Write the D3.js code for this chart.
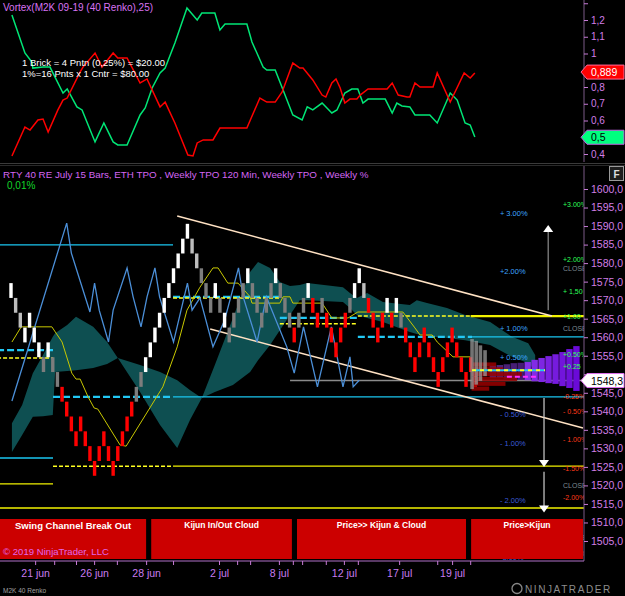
<!DOCTYPE html>
<html>
<head>
<meta charset="utf-8">
<script src="https://cdn.jsdelivr.net/npm/d3@7/dist/d3.min.js"></script>
<style>
  body { margin: 0; background: #000; }
  svg { display: block; }
  text { font-family: "Liberation Sans", Arial, sans-serif; }
</style>
</head>
<body>
<svg id="chart" width="625" height="596"></svg>
<script>
// renko bricks: low price of each 4-point brick, and its colour code
const brickLow = [
  1570.6, 1566.6, 1562.6, 1558.6, 1562.6, 1558.6, 1554.6, 1550.6, 1554.6, 1550.6,
  1546.6, 1542.6, 1538.6, 1534.6, 1530.6, 1534.6, 1530.6, 1526.6, 1522.6, 1526.6,
  1530.6, 1526.6, 1522.6, 1526.6, 1530.6, 1534.6, 1538.6, 1542.6, 1546.6, 1550.6,
  1554.6, 1558.6, 1562.6, 1566.6, 1570.6, 1574.6, 1578.6, 1582.6, 1586.6, 1582.6,
  1578.6, 1574.6, 1570.6, 1566.6, 1570.6, 1566.6, 1562.6, 1558.6, 1562.6, 1566.6,
  1570.6, 1574.6, 1570.6, 1566.6, 1562.6, 1566.6, 1570.6, 1574.6, 1570.6, 1566.6,
  1562.6, 1558.6, 1562.6, 1566.6, 1570.6, 1566.6, 1562.6, 1566.6, 1562.6, 1558.6,
  1554.6, 1558.6, 1562.6, 1566.6, 1570.6, 1574.6, 1570.6, 1566.6, 1562.6, 1558.6,
  1562.6, 1566.6, 1562.6, 1566.6, 1562.6, 1558.6, 1554.6, 1550.6, 1554.6, 1558.6,
  1554.6, 1550.6, 1546.6, 1550.6, 1554.6, 1558.6, 1554.6, 1550.6, 1546.6, 1550.6,
  1546.6
];
const brickKind = [
  "WLLWWWWGWGG", "RRRRRRRRRRRRRRRR", "GG", "WWWWWWWWWW", "LL", "GGG", "W", "G", "W", "GGGG", "W",
  "GGGGG", "W", "GGG", "R", "GG", "W", "RR", "G", "RRRRR", "G", "WW", "L", "RRRR", "W", "R", "W", "G",
  "RRRRRRRRRRRRRRRR"
].join("");

const vortexPlus = [
  [0.2, 1.23], [3.0, 1.003], [4.5, 0.949], [4.7, 0.913], [6.9, 0.919], [8.4, 0.919], [11.2, 0.764],
  [12.1, 0.788], [14.2, 0.681], [15.3, 0.663], [18.1, 0.472], [20.0, 0.585], [22.0, 0.472],
  [23.0, 0.454], [25.0, 0.454], [27.8, 0.633], [28.9, 0.675], [30.4, 0.794], [32.1, 0.884],
  [33.2, 0.913], [35.3, 1.063], [37.9, 1.272], [40.1, 1.2], [41.1, 1.242], [43.9, 1.242],
  [45.0, 1.14], [46.1, 1.176], [50.8, 1.176], [51.9, 1.069], [54.3, 0.919], [55.1, 0.901],
  [56.9, 0.901], [58.6, 0.782], [60.7, 0.633], [62.7, 0.603], [63.8, 0.681], [65.0, 0.663],
  [67.0, 0.704], [69.1, 0.645], [70.2, 0.663], [71.9, 0.764], [73.4, 0.788], [74.7, 0.788],
  [75.8, 0.704], [76.9, 0.728], [80.6, 0.728], [82.1, 0.645], [83.1, 0.704], [84.2, 0.687],
  [85.9, 0.681], [87.0, 0.633], [90.2, 0.633], [91.8, 0.585], [94.6, 0.764], [96.1, 0.722],
  [97.8, 0.585], [98.9, 0.573], [99.9, 0.501]
];
const vortexMinus = [
  [0.2, 0.388], [3.0, 0.561], [4.1, 0.543], [5.8, 0.603], [6.9, 0.609], [8.0, 0.531], [10.1, 0.663],
  [11.2, 0.722], [12.1, 0.734], [14.9, 0.890], [15.5, 0.919], [18.1, 1.003], [19.6, 0.919],
  [22.0, 1.003], [23.0, 0.973], [25.0, 0.973], [27.8, 0.824], [29.3, 0.848], [32.1, 0.681],
  [33.2, 0.710], [35.3, 0.585], [38.1, 0.394], [39.2, 0.388], [40.1, 0.466], [41.4, 0.484],
  [43.5, 0.484], [45.0, 0.555], [50.8, 0.555], [53.6, 0.734], [55.1, 0.710], [56.9, 0.710],
  [58.4, 0.770], [60.7, 0.943], [62.2, 0.913], [62.9, 0.913], [65.0, 0.842], [67.0, 0.752],
  [67.8, 0.740], [69.1, 0.824], [70.0, 0.848], [70.9, 0.794], [71.9, 0.704], [73.0, 0.728],
  [74.5, 0.728], [75.2, 0.752], [76.9, 0.788], [81.0, 0.788], [82.1, 0.824], [83.4, 0.752],
  [85.3, 0.740], [85.9, 0.740], [87.0, 0.824], [88.1, 0.800], [90.9, 0.800], [91.8, 0.884],
  [94.6, 0.710], [97.6, 0.884], [98.9, 0.854], [99.9, 0.884]
];

const oscLine = [
  [0.2, 1542.8], [12, 1590.8], [13, 1582.7], [17, 1566.8], [18, 1574.6], [19, 1567.3], [21, 1558.7],
  [22, 1567.3], [25, 1578.7], [26.3, 1570.9], [28, 1562.8], [29.3, 1570.9], [31, 1578.7],
  [32, 1570.9], [35, 1558.7], [38, 1574.6], [39, 1567.3], [40.7, 1570.6], [43.5, 1557.4],
  [46, 1564.6], [49, 1578.7], [50, 1570.9], [53, 1558.7], [55, 1570.9], [59.4, 1557.4],
  [61, 1550.3], [63, 1562.8], [66, 1546.6], [69, 1562.8], [71.5, 1546.6], [73, 1554.7],
  [73.7, 1546.6], [75, 1548.4]
];

const kijun = [
  [0.2, 1558.7], [2.2, 1562.8], [8.8, 1562.8], [11, 1558.7], [13.1, 1550.3], [14, 1548.7],
  [14.9, 1548.7], [16.6, 1543.9], [17.9, 1540.9], [18.7, 1540.6], [23.5, 1530.9], [24.8, 1530.6],
  [29.9, 1540.9], [32.7, 1546.6], [35.8, 1557.4], [37.9, 1567.3], [40.7, 1573.5], [43.5, 1578.7],
  [44.6, 1578.7], [46.7, 1574.6], [48.9, 1574.6], [51.5, 1570.9], [51.9, 1569.2], [57.9, 1569.2],
  [58.6, 1570.9], [60.1, 1570.9], [60.7, 1569.2], [67, 1569.2], [69.1, 1565.2], [72.6, 1565.2],
  [74.7, 1566.8], [81.2, 1566.8], [84.4, 1566.8], [87, 1562.5], [88.1, 1560.6], [90.7, 1560.6],
  [91.8, 1558.7], [95.2, 1554.7], [98.9, 1554.7]
];

// cloud pieces: [bar, upper price, lower price]
const cloudLeft = [
  [0.2, 1536.8, 1529.0], [2.4, 1541.7, 1533.6], [4.7, 1550.3, 1538.5], [6.9, 1555.2, 1538.7],
  [9.0, 1560.1, 1539.0], [9.5, 1561.1, 1550.6], [12.1, 1563.3, 1550.9], [14.0, 1565.5, 1551.1],
  [17.7, 1562.8, 1551.7], [20.7, 1558.7, 1552.8], [23.0, 1554.4, 1554.4]
];
const cloudWedge = [
  [23.0, 1554.4, 1554.4], [27.8, 1552.5, 1545.2], [32.1, 1550.6, 1536.3], [35.8, 1548.4, 1530.1],
  [38.6, 1545.7, 1537.8], [41.1, 1543.6, 1543.6]
];
const cloudRight = [
  [41.1, 1543.6, 1543.6], [43.9, 1552.5, 1545.2], [47.8, 1565.2, 1547.1], [51.5, 1577.6, 1550.6],
  [53.2, 1580.3, 1553.8], [55.8, 1578.7, 1557.9], [57.9, 1574.9, 1561.9], [60.1, 1573.8, 1566.0],
  [62.2, 1574.1, 1570.0], [63.8, 1574.6, 1570.0], [71.5, 1573.5, 1569.5], [73.0, 1571.9, 1567.9],
  [74.5, 1570.6, 1566.0], [76.7, 1571.9, 1565.2], [80.1, 1569.5, 1564.1], [85.9, 1568.7, 1561.4],
  [87.4, 1570.0, 1560.9], [89.6, 1569.2, 1560.3], [93.9, 1567.9, 1559.8], [97.8, 1566.0, 1559.2],
  [103.2, 1564.1, 1557.9], [107.9, 1560.1, 1554.7], [111.4, 1558.4, 1553.0], [112.9, 1555.2, 1551.1]
];

// horizontal levels: [price, from bar, to bar]
const cyanSolid = [[1584.9, -3, 34.9], [1527.4, -3, 9.05], [1543.9, 34.9, 124], [1560.1, 99.3, 124]];
const cyanDashed = [[1556.5, -3, 9.05], [1543.9, 9.05, 34.9], [1570.9, 34.9, 57.9], [1565.2, 57.9, 74.7], [1560.1, 74.7, 99.3]];
const yellowSolid = [[1520.4, -3, 9.05], [1525.2, 34.9, 124], [1513.9, -3, 124]];
const yellowThick = [[1565.7, 99, 124]];
const yellowDashed = [[1554.4, -3, 9.05], [1525.2, 9.05, 34.9], [1570.6, 34.9, 57.9], [1563.6, 57.9, 74.7], [1565.7, 74.7, 99]];

const channelUpper = [[35.8, 1592.7], [116.5, 1565.7]];
const channelLower = [[42.9, 1562.2], [123.2, 1535.5]];

const lastPrice = 1548.3;
const lastVortexPlus = 0.5;
const lastVortexMinus = 0.889;

// TPO profile near the last bars
const tpoRows = [[1553.2, 99.5, 104.5], [1551.9, 99.2, 106], [1550.6, 99.2, 110], [1549.3, 99.2, 109], [1548.0, 99.2, 106.5], [1546.7, 99.2, 103]];
const tpoGray = [[99.3, 1546.0, 1559.5], [100.2, 1547.2, 1559.0], [101.1, 1548.2, 1557.8], [102.1, 1549.5, 1556.5]];
const weeklyProfile = [
  [103.8, 1549.0, 1552.3], [105.3, 1549.0, 1552.5], [106.8, 1548.8, 1552.7], [108.3, 1548.7, 1553.0],
  [109.8, 1548.5, 1553.1], [111.3, 1548.4, 1553.3], [112.8, 1548.1, 1553.9], [114.3, 1547.9, 1554.4],
  [115.8, 1547.6, 1554.9], [117.3, 1547.4, 1555.4], [118.8, 1546.8, 1556.0], [120.3, 1546.3, 1556.8],
  [121.8, 1545.5, 1557.6]
];
const vaDashed = [[1551.1, 99.3, 115]];
const pocDashed = [[1549.3, 106.8, 113.3]];

// arrows: [bar, from price, to price]
const arrows = [[115.7, 1567.3, 1589.5], [114.8, 1543.6, 1525.8], [114.8, 1523.7, 1513.5]];

const pctLeft = [
  [1593.5, "+ 3.00%"], [1577.9, "+2.00%"], [1562.5, "+ 1.00%"], [1554.7, "+ 0.50%"],
  [1539.3, "- 0.50%"], [1531.4, "- 1.00%"], [1516.1, "- 2.00%"], [1500.7, "-3.00%"]
];
const pctRight = [
  [1596.0, "+3.00%", "up"], [1581.0, "+2.00%", "up"], [1578.6, "CLOSE", "close"], [1572.5, "+ 1,50", "up"],
  [1565.6, "+1.00", "up"], [1562.6, "CLOSE", "close"], [1555.6, "+0.50%", "up"], [1552.1, "+0.25", "up"],
  [1544.0, "-0.25%", "down"], [1540.2, "- 0.50%", "down"], [1532.4, "- 1.00%", "down"], [1524.8, "-1.50%", "down"],
  [1520.2, "CLOSE", "close"], [1517.0, "-2.00%", "down"], [1506.0, "CLOSE", "close"], [1501.7, "- 3.00%", "down"]
];

const signalBoxes = [
  ["Swing Channel Break Out", -3, 29.1], ["Kijun In/Out Cloud", 30.2, 60.5],
  ["Price>> Kijun & Cloud", 61.6, 98], ["Price>Kijun", 99.1, 123.2]
];

const dayTicks = [5.2, 9.3, 14.0, 17.9, 22.8, 29.1, 34.9, 44.8, 48.7, 51.5, 57.7, 60.7, 62.7, 67.8, 71.7, 74.7, 83.6, 91.8, 95.0, 98.9];
const dayLabels = { 5.2: "21 jun", 17.9: "26 jun", 29.1: "28 jun", 44.8: "2 jul", 57.7: "8 jul", 71.7: "12 jul", 83.6: "17 jul", 95.0: "19 jul" };

const priceTicks = d3.range(1505, 1601, 5);
const vortexTicks = [0.4, 0.5, 0.6, 0.7, 0.8, 0.9, 1, 1.1, 1.2, 1.3];
const vortexLabelled = [0.4, 0.6, 0.7, 0.8, 1, 1.1, 1.2];

const svg = d3.select("#chart");
const W = 625, axisX = 584;

const x = d3.scaleLinear().domain([0, 100]).range([11, 475.3]);
const y = d3.scaleLinear().domain([1505, 1600]).range([541, 189]);
const yv = d3.scaleLinear().domain([0.4, 1.2]).range([154, 20]);

svg.append("rect").attr("width", W).attr("height", 596).attr("fill", "#000");

const defs = svg.append("defs");
defs.append("clipPath").attr("id", "clipMain").append("rect").attr("x", 0).attr("y", 166).attr("width", axisX).attr("height", 395);
defs.append("clipPath").attr("id", "clipTop").append("rect").attr("x", 0).attr("y", 0).attr("width", axisX).attr("height", 162);

// ---------- vortex panel ----------
const topPanel = svg.append("g").attr("clip-path", "url(#clipTop)");
const vLine = d3.line().x(d => x(d[0])).y(d => yv(d[1]));
topPanel.append("path").datum(vortexPlus).attr("d", vLine).attr("fill", "none").attr("stroke", "#00e676").attr("stroke-width", 1.5);
topPanel.append("path").datum(vortexMinus).attr("d", vLine).attr("fill", "none").attr("stroke", "#ff0000").attr("stroke-width", 1.5);

svg.append("text").attr("x", 3).attr("y", 11).attr("fill", "#d873f2").attr("font-size", 10).text("Vortex(M2K 09-19 (40 Renko),25)");
svg.append("text").attr("x", 22).attr("y", 66).attr("fill", "#fff").attr("font-size", 9.5).text("1 Brick = 4 Pntn (0,25%) = $20.00");
svg.append("text").attr("x", 22).attr("y", 77).attr("fill", "#fff").attr("font-size", 9.5).text("1%=16 Pnts x 1 Cntr = $80.00");

const vAxis = svg.append("g").attr("transform", `translate(${axisX},0)`)
  .call(d3.axisRight(yv).tickValues(vortexTicks).tickSize(4)
    .tickFormat(d => vortexLabelled.includes(d) ? String(d).replace(".", ",") : ""));
vAxis.select(".domain").attr("stroke", "#7a5a86").attr("d", "M0,0V162");
vAxis.selectAll(".tick line").attr("stroke", "#c77ad6");
vAxis.selectAll(".tick text").attr("fill", "#d27ee6").attr("font-size", 10).attr("x", 7);

svg.append("line").attr("x1", 0).attr("x2", W).attr("y1", 163.5).attr("y2", 163.5).attr("stroke", "#3a3a3a");

function tag(g, cy, fill, txt, txtColor, border) {
  g.append("path").attr("d", `M${axisX - 3},${cy} L${axisX + 3},${cy - 7} H${W - 1} V${cy + 7} H${axisX + 3} Z`)
    .attr("fill", fill).attr("stroke", border).attr("stroke-width", 1);
  g.append("text").attr("x", axisX + 7).attr("y", cy + 4).attr("fill", txtColor).attr("font-size", 10.5).text(txt);
}
tag(svg, yv(lastVortexMinus), "#ff0000", String(lastVortexMinus).replace(".", ","), "#fff", "#ff6b9a");
tag(svg, yv(lastVortexPlus), "#00ff7f", String(lastVortexPlus).replace(".", ","), "#000", "#c060e0");

// ---------- price panel ----------
svg.append("line").attr("x1", 0).attr("x2", W).attr("y1", 165.5).attr("y2", 165.5).attr("stroke", "#2a2a2a");
const main = svg.append("g").attr("clip-path", "url(#clipMain)");

// cloud
const cloudArea = d3.area().x(d => x(d[0])).y0(d => y(d[2])).y1(d => y(d[1]));
[cloudLeft, cloudWedge, cloudRight].forEach(c => {
  main.append("path").datum(c).attr("d", cloudArea).attr("fill", "#0e4f51");
});

// levels
function levels(data, color, width, dash) {
  main.append("g").selectAll("line").data(data).enter().append("line")
    .attr("x1", d => x(d[1])).attr("x2", d => x(d[2]))
    .attr("y1", d => y(d[0])).attr("y2", d => y(d[0]))
    .attr("stroke", color).attr("stroke-width", width)
    .attr("stroke-dasharray", dash);
}
levels(cyanSolid, "#1ac6f0", 1.3, null);
levels(yellowSolid, "#f2f200", 1.3, null);
levels(yellowThick, "#f2f200", 2.2, null);
levels(cyanDashed, "#22c8f4", 2.2, "7,3");
levels(yellowDashed, "#ffff20", 1.5, "4,2");

main.append("line").attr("x1", x(60.1)).attr("x2", axisX).attr("y1", y(lastPrice)).attr("y2", y(lastPrice)).attr("stroke", "#8a8a8a").attr("stroke-width", 1.5);

// channel
const pLine = d3.line().x(d => x(d[0])).y(d => y(d[1]));
[channelUpper, channelLower].forEach(c => {
  main.append("path").datum(c).attr("d", pLine).attr("stroke", "#ffe2c4").attr("stroke-width", 1.5).attr("fill", "none");
});

// weekly profile (purple)
main.append("g").selectAll("rect").data(weeklyProfile).enter().append("rect")
  .attr("x", d => x(d[0]) - 3.3).attr("width", 6.4)
  .attr("y", d => y(d[2])).attr("height", d => y(d[1]) - y(d[2]))
  .attr("fill", (d, i) => d3.interpolateRgb("#9a4cf0", "#6a0ad8")(i / 12))
  .attr("opacity", (d, i) => i < 5 ? 0.5 : 1);

// kijun and oscillator
main.append("path").datum(kijun).attr("d", pLine).attr("fill", "none").attr("stroke", "#c9c900").attr("stroke-width", 1);
main.append("path").datum(oscLine).attr("d", pLine).attr("fill", "none").attr("stroke", "#4b8fd8").attr("stroke-width", 1.3);

// bricks
const brickColor = { W: "#ffffff", L: "#bdbdbd", G: "#7d7d7d", R: "#ff0000" };
main.append("g").selectAll("rect").data(brickLow).enter().append("rect")
  .attr("x", (d, i) => x(i) - 1.7).attr("width", 3.4)
  .attr("y", d => y(d + 4)).attr("height", d => y(d) - y(d + 4))
  .attr("fill", (d, i) => brickColor[brickKind[i]]);

// TPO rows
main.append("g").selectAll("rect").data(tpoRows).enter().append("rect")
  .attr("x", d => x(d[1])).attr("width", d => x(d[2]) - x(d[1]))
  .attr("y", d => y(d[0])).attr("height", 4.2)
  .attr("fill", "#9a0000").attr("opacity", 0.85);
main.append("g").selectAll("rect").data(tpoGray).enter().append("rect")
  .attr("x", d => x(d[0]) - 1.8).attr("width", 3.6)
  .attr("y", d => y(d[2])).attr("height", d => y(d[1]) - y(d[2]))
  .attr("fill", "#9a9a9a").attr("opacity", 0.75);
vaDashed.forEach(d => {
  main.append("line").attr("x1", x(d[1])).attr("x2", x(d[2])).attr("y1", y(d[0])).attr("y2", y(d[0])).attr("stroke", "#22c8f4").attr("stroke-width", 2);
  main.append("line").attr("x1", x(d[1])).attr("x2", x(d[2])).attr("y1", y(d[0])).attr("y2", y(d[0])).attr("stroke", "#ffff20").attr("stroke-width", 2).attr("stroke-dasharray", "4,4");
});
pocDashed.forEach(d => {
  main.append("line").attr("x1", x(d[1])).attr("x2", x(d[2])).attr("y1", y(d[0])).attr("y2", y(d[0])).attr("stroke", "#ff30ff").attr("stroke-width", 2).attr("stroke-dasharray", "5,3");
});

// arrows
arrows.forEach(a => {
  const up = a[2] > a[1];
  const x0 = x(a[0]), ya = y(a[1]), yb = y(a[2]);
  main.append("line").attr("x1", x0).attr("x2", x0).attr("y1", ya).attr("y2", yb).attr("stroke", up ? "#8c8c8c" : "#cfcfcf").attr("stroke-width", 1.2);
  const s = up ? -1 : 1;
  main.append("path").attr("d", `M${x0 - 5},${yb - 4 * s} L${x0 + 5},${yb - 4 * s} L${x0},${yb + 3 * s} Z`).attr("fill", "#fff");
});

// percent labels
main.append("g").selectAll("text").data(pctLeft).enter().append("text")
  .attr("x", x(105.3)).attr("y", d => y(d[0]) + 3)
  .attr("font-size", 7.5)
  .attr("fill", d => d[1].startsWith("+") ? "#3da5ff" : "#3a5ad8")
  .text(d => d[1]);
const rightColor = { up: "#2dff5a", down: "#ff3a1a", close: "#7d8a90" };
main.append("g").selectAll("text").data(pctRight).enter().append("text")
  .attr("x", 563).attr("y", d => y(d[0]) + 3)
  .attr("font-size", 7)
  .attr("fill", d => rightColor[d[2]])
  .text(d => d[1]);

// signal boxes
const boxes = svg.append("g");
signalBoxes.forEach((b, i) => {
  const x0 = Math.max(0, x(b[1])), x1 = Math.min(axisX - 1, x(b[2]));
  boxes.append("rect").attr("x", x0).attr("y", 519).attr("width", x1 - x0).attr("height", 40).attr("fill", "#cc0000");
  boxes.append("text").attr("x", (x0 + x1) / 2).attr("y", i === 0 ? 529 : 528).attr("text-anchor", "middle")
    .attr("fill", "#fff").attr("font-weight", "bold").attr("font-size", i === 0 ? 9.5 : 8.5).text(b[0]);
});
svg.append("text").attr("x", 3).attr("y", 555).attr("fill", "#e266e8").attr("font-size", 9.6).text("© 2019 NinjaTrader, LLC");

// titles
svg.append("text").attr("x", 3).attr("y", 178).attr("fill", "#d466f2").attr("font-size", 9.8)
  .text("RTY 40 RE July 15 Bars, ETH TPO , Weekly TPO 120 Min, Weekly TPO , Weekly %");
svg.append("text").attr("x", 7).attr("y", 189).attr("fill", "#12d62a").attr("font-size", 10).text("0,01%");

// F button
svg.append("rect").attr("x", 609.5).attr("y", 166.5).attr("width", 14).attr("height", 14).attr("fill", "#1e1e1e").attr("stroke", "#9a9a9a");
svg.append("text").attr("x", 616.5).attr("y", 177.5).attr("text-anchor", "middle").attr("fill", "#e0e0e0").attr("font-size", 10).attr("font-weight", "bold").text("F");

// price axis
const pAxis = svg.append("g").attr("transform", `translate(${axisX},0)`)
  .call(d3.axisRight(y).tickValues(priceTicks).tickSize(4)
    .tickFormat(d => d === 1550 ? "" : d.toFixed(1).replace(".", ",")));
pAxis.select(".domain").attr("stroke", "#7a5a86").attr("d", "M0,166V561");
pAxis.selectAll(".tick line").attr("stroke", "#c77ad6");
pAxis.selectAll(".tick text").attr("fill", "#d27ee6").attr("font-size", 10.5).attr("x", 7);

svg.append("path").attr("d", `M${axisX - 3},${y(lastPrice)} L${axisX + 3},${y(lastPrice) - 7} H${W - 1} V${y(lastPrice) + 7} H${axisX + 3} Z`)
  .attr("fill", "#fff").attr("stroke", "#e070f0");
svg.append("text").attr("x", axisX + 7).attr("y", y(lastPrice) + 4).attr("fill", "#000").attr("font-size", 10.5).text(String(lastPrice).replace(".", ","));

// time axis
const tAxis = svg.append("g").attr("transform", "translate(0,561)")
  .call(d3.axisBottom(x).tickValues(dayTicks).tickSize(4).tickFormat(d => dayLabels[d] || ""));
tAxis.select(".domain").attr("stroke", "#b070c8").attr("d", "M0,0H584");
tAxis.selectAll(".tick line").attr("stroke", "#c77ad6");
tAxis.selectAll(".tick text").attr("fill", "#c97cf0").attr("font-size", 10.5).attr("y", 9);

svg.append("text").attr("x", 3).attr("y", 593).attr("fill", "#a0a0a0").attr("font-size", 6.5).text("M2K 40 Renko");

// logo
svg.append("circle").attr("cx", 517).attr("cy", 588.5).attr("r", 5).attr("fill", "none").attr("stroke", "#888").attr("stroke-width", 1.3);
svg.append("text").attr("x", 525).attr("y", 593).attr("fill", "#8d8d8d").attr("font-size", 10).attr("letter-spacing", 1.6).text("NINJATRADER");
</script>
</body>
</html>
